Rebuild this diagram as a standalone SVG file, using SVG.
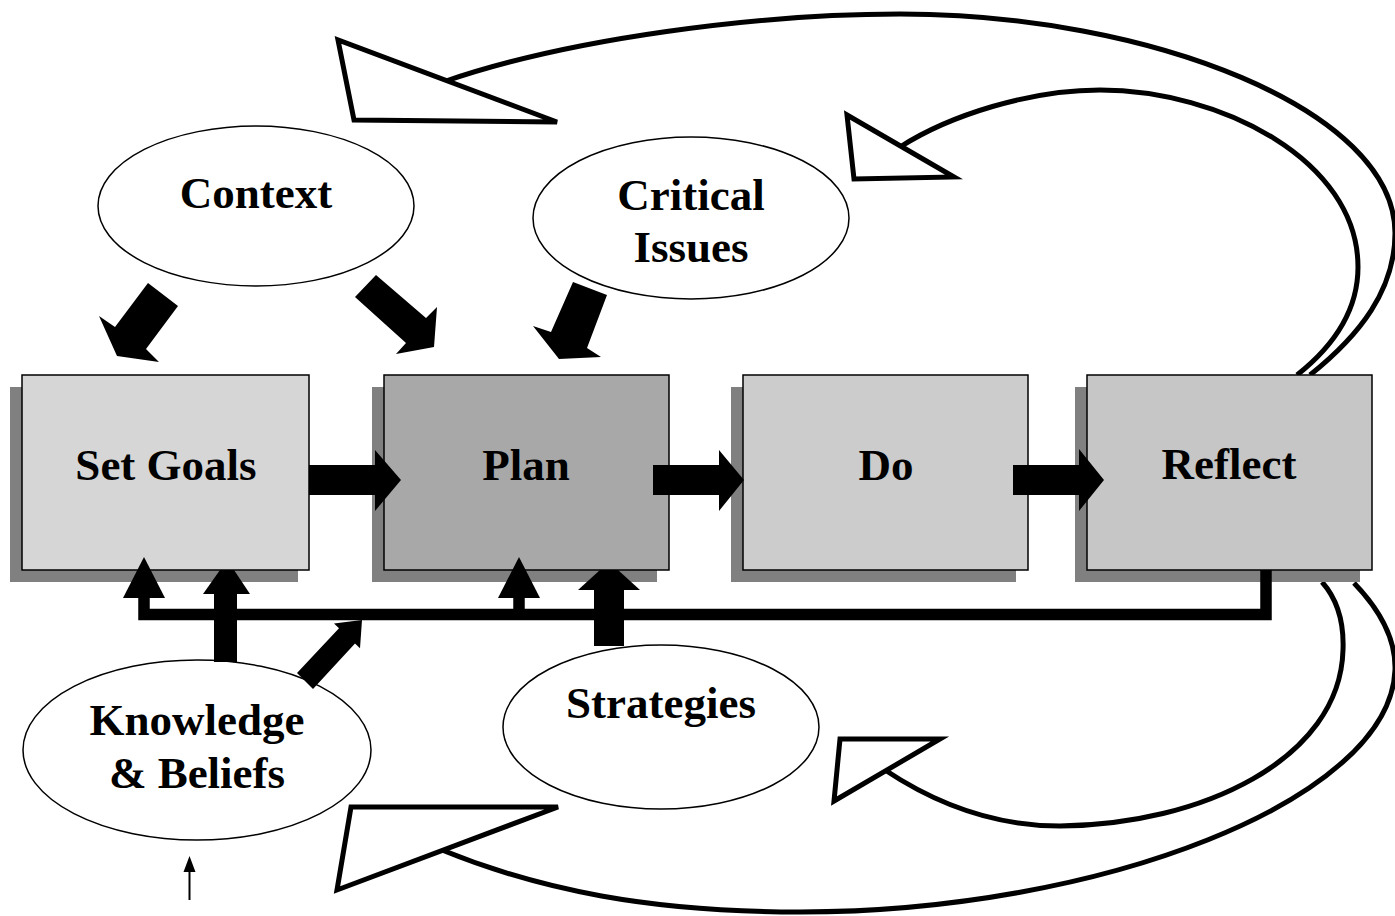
<svg xmlns="http://www.w3.org/2000/svg" width="1395" height="916" viewBox="0 0 1395 916">
<style>
.shadow{fill:#808080;stroke:none}
.box{stroke:#000;stroke-width:1.5}
.ell{fill:#fff;stroke:#000;stroke-width:1.5}
.lbl{font-family:"Liberation Serif","Times New Roman",serif;font-weight:bold;font-size:45px;fill:#000;text-anchor:middle}
.blk{fill:#000;stroke:none}
.curve{fill:none;stroke:#000;stroke-width:5}
.hollow{fill:#fff;stroke:#000;stroke-width:5;stroke-linejoin:miter}
</style>
<rect width="1395" height="916" fill="#fff"/>

<g id="feedback-curves">
<path class="curve" d="M1310,375 C1360,335 1395,290 1395,233 C1395,110 1150,14 900,14 C760,14 570,38 443,82"/>
<polygon class="hollow" points="338,40 354,120 557,122"/>
<path class="curve" d="M1297,375 C1335,345 1358,310 1358,267 C1358,160 1220,90 1100,90 C1030,90 950,115 900,147"/>
<polygon class="hollow" points="847,115 854,179 954,177"/>
<path class="curve" d="M1322,582 C1338,600 1344,625 1343,650 C1340,760 1200,825 1060,826 C990,826 930,800 885,770"/>
<polygon class="hollow" points="840,739 940,739 834,801"/>
<path class="curve" d="M1354,583 C1380,610 1396,640 1395,670 C1390,800 1100,912 800,912 C650,912 540,890 442,850"/>
<polygon class="hollow" points="351,807 558,807 337,890"/>
</g>

<g id="set-goals">
<rect class="shadow" x="10" y="387" width="288" height="195"/>
<rect class="box" x="22" y="375" width="287" height="195" fill="#d6d6d6"/>
<text class="lbl" x="166" y="480">Set Goals</text>
</g>
<g id="plan">
<rect class="shadow" x="372" y="387" width="285" height="195"/>
<rect class="box" x="384" y="375" width="285" height="195" fill="#a8a8a8"/>
<text class="lbl" x="526" y="480">Plan</text>
</g>
<g id="do">
<rect class="shadow" x="731" y="387" width="285" height="195"/>
<rect class="box" x="743" y="375" width="285" height="195" fill="#cccccc"/>
<text class="lbl" x="886" y="480">Do</text>
</g>
<g id="reflect">
<rect class="shadow" x="1075" y="387" width="285" height="195"/>
<rect class="box" x="1087" y="375" width="285" height="195" fill="#c6c6c6"/>
<text class="lbl" x="1229" y="479">Reflect</text>
</g>

<g id="context">
<ellipse class="ell" cx="256" cy="206" rx="158" ry="80"/>
<text class="lbl" x="256" y="208">Context</text>
</g>
<g id="critical-issues">
<ellipse class="ell" cx="691" cy="218" rx="158" ry="81"/>
<text class="lbl" x="691" y="210">Critical</text>
<text class="lbl" x="691" y="262">Issues</text>
</g>
<g id="knowledge-beliefs">
<ellipse class="ell" cx="197" cy="750" rx="174" ry="90"/>
<text class="lbl" x="197" y="735">Knowledge</text>
<text class="lbl" x="197" y="788">&amp; Beliefs</text>
</g>
<g id="strategies">
<ellipse class="ell" cx="661" cy="727" rx="158" ry="82"/>
<text class="lbl" x="661" y="718">Strategies</text>
</g>

<g id="connectors">
<!-- context / critical issues arrows -->
<polygon class="blk" points="148,283 178,306 146,349 159,362 117,356 99,316 115,327"/>
<polygon class="blk" points="355,297 376,275 426,318 437,307 434,347 396,354 406,343"/>
<polygon class="blk" points="573,282 607,295 587,348 601,357 559,359 533,326 551,332"/>
<!-- process arrows -->
<polygon class="blk" points="309,465 375,465 375,450 401,480 375,511 375,495 309,495"/>
<polygon class="blk" points="653,465 719,465 719,450 744,480 719,511 719,495 653,495"/>
<polygon class="blk" points="1013,465 1079,465 1079,449 1104,480 1079,511 1079,495 1013,495"/>
<!-- feedback bar from Reflect -->
<path d="M1266,570 V614.5 H144 V596" fill="none" stroke="#000" stroke-width="11.5" stroke-linejoin="miter"/>
<polygon class="blk" points="123,598 165,598 144,557"/>
<path d="M519,614 V596" fill="none" stroke="#000" stroke-width="11.5"/>
<polygon class="blk" points="498,598 540,598 519,557"/>
<!-- knowledge arrows -->
<rect class="blk" x="214" y="592" width="23" height="70"/>
<polygon class="blk" points="203,594 250,594 234,570 220,570"/>
<polygon class="blk" points="297,673 313,689 355,643.5 360,648.3 362,620 334,623.5 339,628.3"/>
<!-- strategies arrow -->
<rect class="blk" x="594" y="588" width="30" height="58"/>
<polygon class="blk" points="578,590 640,590 618,570 600,570"/>
<!-- small input arrow -->
<line x1="189.5" y1="900" x2="189.5" y2="868" stroke="#000" stroke-width="2"/>
<polygon class="blk" points="183.5,872 195.5,872 189.5,856"/>
</g>
</svg>
